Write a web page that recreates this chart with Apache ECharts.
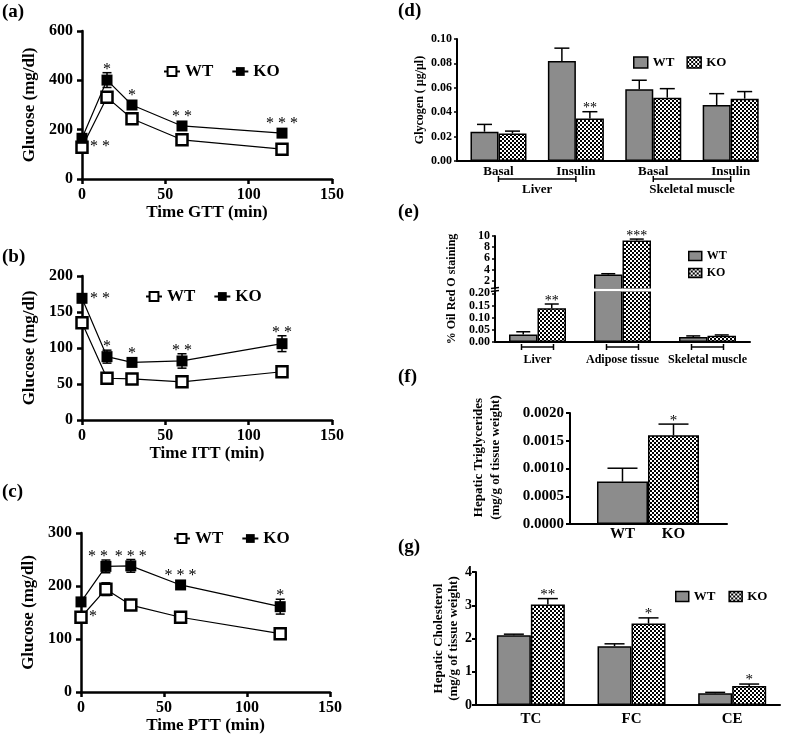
<!DOCTYPE html>
<html><head><meta charset="utf-8">
<script src="https://cdn.jsdelivr.net/npm/echarts@6/dist/echarts.min.js"></script>
<style>html,body{margin:0;padding:0;background:#fff}#c{width:787px;height:744px}</style>
</head><body><div id="c"></div>
<script>
// ---------------- DATA ----------------
const timeMin = [0, 15, 30, 60, 120];

const gttWT = [129, 331, 244, 159, 121];
const gttWTerr = [8, 12, 10, 8, 8];
const gttKO = [165, 401, 300, 215, 186];
const gttKOerr = [8, 30, 10, 8, 10];
const gttStars = ['**', '*', '*', '**', '***'];

const ittWT = [135, 58, 57, 53, 67];
const ittWTerr = [5, 4, 4, 4, 5];
const ittKO = [169, 88, 80, 82, 106];
const ittKOerr = [5, 9, 5, 10, 11];
const ittStars = ['**', '*', '*', '**', '**'];

const pttWT = [141, 194, 164, 141, 110];
const pttWTerr = [6, 12, 6, 6, 8];
const pttKO = [170, 237, 238, 202, 161];
const pttKOerr = [6, 12, 12, 6, 14];
const pttStars = ['*', '**', '***', '***', '*'];

const glyCats = ['Basal', 'Insulin', 'Basal', 'Insulin'];
const glyTissues = ['Liver', 'Skeletal muscle'];
const glyWT = [0.024, 0.082, 0.0588, 0.0459];
const glyWTerr = [0.006, 0.0105, 0.0074, 0.0093];
const glyKO = [0.0225, 0.0349, 0.0519, 0.0511];
const glyKOerr = [0.002, 0.0055, 0.0074, 0.0058];
const glyStars = ['', '**', '', ''];

const orCats = ['Liver', 'Adipose tissue', 'Skeletal muscle'];
const orWT = [0.031, 3.1, 0.021];
const orWTerr = [0.011, 0.15, 0.004];
const orKO = [0.139, 9.2, 0.026];
const orKOerr = [0.017, 0.25, 0.003];
const orStars = ['**', '***', ''];
const orTopTicks = [2, 4, 6, 8, 10];
const orBottomTicks = [0, 0.05, 0.10, 0.15, 0.20];

const tgCats = ['WT', 'KO'];
const tgVal = [0.000765, 0.0016];
const tgErr = [0.00024, 0.0002];
const tgStars = ['', '*'];

const cholCats = ['TC', 'FC', 'CE'];
const cholWT = [2.1, 1.77, 0.35];
const cholWTerr = [0.03, 0.07, 0.03];
const cholKO = [3.02, 2.45, 0.57];
const cholKOerr = [0.18, 0.17, 0.06];
const cholStars = ['**', '*', '*'];

// ---------------- STYLE / LAYOUT ----------------
const FONT = 'Liberation Serif';
const GREY = '#8c8c8c';
const starPlaceA = ['rightWT', 'top', 'top', 'top', 'top'];
const starPlaceB = ['rightKO', 'top', 'top', 'top', 'top'];
const starPlaceC = ['rightWT', 'topleft', 'top', 'top', 'top'];

const L = {
  a: {left: 82, top: 31, width: 250, height: 148},
  b: {left: 82, top: 276, width: 250, height: 144},
  c: {left: 81, top: 533, width: 249, height: 159},
  d: {left: 457, top: 39, width: 301, height: 122},
  et: {left: 495, top: 236, width: 255, height: 53},
  eb: {left: 495, top: 291, width: 255, height: 51},
  f: {left: 570, top: 413, width: 157, height: 111},
  g: {left: 476, top: 572, width: 304, height: 133}
};
const E_TOP_MIN = 0.515, E_BOT_MAX = 0.2094;

const pc = document.createElement('canvas');
pc.width = 4; pc.height = 4;
const pg = pc.getContext('2d');
pg.fillStyle = '#fff'; pg.fillRect(0, 0, 4, 4);
pg.fillStyle = '#000'; pg.fillRect(0, 0, 2, 2); pg.fillRect(2, 2, 2, 2);
const CHECK = {image: pc, repeat: 'repeat'};

function ts(size, extra) {
  return Object.assign({color: '#000', fontFamily: FONT, fontWeight: 'bold', fontSize: size}, extra || {});
}
function axisLine(w) { return {show: true, onZero: false, lineStyle: {color: '#000', width: w}}; }
function axisTick(len, w, extra) { return Object.assign({show: true, length: len, lineStyle: {color: '#000', width: w}}, extra || {}); }

// ---------------- AXES ----------------
const xAxis = [], yAxis = [];
function lineAxes(gi, ymax, yint, xname) {
  xAxis.push({type: 'value', gridIndex: gi, min: 0, max: 150, interval: 50,
    name: xname, nameLocation: 'middle', nameGap: 21, nameTextStyle: ts(17),
    axisLine: axisLine(2.5), axisTick: axisTick(5, 2.5), splitLine: {show: false},
    axisLabel: Object.assign(ts(16), {margin: 8})});
  yAxis.push({type: 'value', gridIndex: gi, min: 0, max: ymax, interval: yint,
    name: 'Glucose (mg/dl)', nameLocation: 'middle', nameGap: 44, nameTextStyle: ts(17),
    axisLine: axisLine(2.5), axisTick: axisTick(5, 2.5), splitLine: {show: false},
    axisLabel: Object.assign(ts(16), {margin: 9})});
}
lineAxes(0, 600, 200, 'Time GTT (min)');
lineAxes(1, 200, 50, 'Time ITT (min)');
lineAxes(2, 300, 100, 'Time PTT (min)');

// d
xAxis.push({type: 'value', gridIndex: 3, min: 0.464, max: 4.353,
  axisLine: axisLine(2), axisTick: {show: false}, splitLine: {show: false},
  axisLabel: Object.assign(ts(13), {margin: 4, customValues: [1, 2, 3, 4], formatter: v => glyCats[Math.round(v) - 1]})});
yAxis.push({type: 'value', gridIndex: 3, min: 0, max: 0.1, interval: 0.02,
  name: 'Glycogen ( μg/μl)', nameLocation: 'middle', nameGap: 31, nameTextStyle: ts(12),
  axisLine: axisLine(2), axisTick: axisTick(3, 1.5), splitLine: {show: false},
  axisLabel: Object.assign(ts(12), {margin: 5, formatter: v => v.toFixed(2)})});
// e top (labels split over two coincident axes so that none is dropped as overlapping)
const topTicksA = orTopTicks.filter((v, i) => i % 2 === 0);
const topTicksB = orTopTicks.filter((v, i) => i % 2 === 1);
xAxis.push({type: 'category', gridIndex: 4, data: orCats, show: false});
yAxis.push({type: 'value', gridIndex: 4, min: E_TOP_MIN, max: 10,
  axisLine: axisLine(2), axisTick: axisTick(3, 1.5, {customValues: orTopTicks}), splitLine: {show: false},
  axisLabel: Object.assign(ts(12), {margin: 5, customValues: topTicksA, showMinLabel: true, showMaxLabel: true,
    formatter: v => String(v)})});
// e bottom
xAxis.push({type: 'category', gridIndex: 5, data: orCats,
  axisLine: axisLine(2), axisTick: {show: false}, splitLine: {show: false},
  axisLabel: Object.assign(ts(12), {margin: 12, interval: 0})});
yAxis.push({type: 'value', gridIndex: 5, min: 0, max: E_BOT_MAX,
  axisLine: axisLine(2), axisTick: axisTick(3, 1.5, {customValues: orBottomTicks}), splitLine: {show: false},
  axisLabel: Object.assign(ts(12), {margin: 5, customValues: orBottomTicks, showMinLabel: true, showMaxLabel: true,
    formatter: v => v.toFixed(2)})});
// f
xAxis.push({type: 'value', gridIndex: 6, min: -0.029, max: 3.049,
  axisLine: axisLine(2), axisTick: {show: false}, splitLine: {show: false},
  axisLabel: Object.assign(ts(15), {margin: 3, customValues: [1, 2], formatter: v => tgCats[Math.round(v) - 1]})});
yAxis.push({type: 'value', gridIndex: 6, min: 0, max: 0.002, interval: 0.0005,
  name: 'Hepatic Triglycerides\n(mg/g of tissue weight)', nameLocation: 'middle', nameGap: 66,
  nameTextStyle: ts(13, {lineHeight: 17, padding: [0, 0, 0, 22]}),
  axisLine: axisLine(2), axisTick: axisTick(4, 2), splitLine: {show: false},
  axisLabel: Object.assign(ts(15), {margin: 6, formatter: v => v.toFixed(4)})});
// g
xAxis.push({type: 'value', gridIndex: 7, min: 0.455, max: 3.475,
  axisLine: axisLine(2), axisTick: {show: false}, splitLine: {show: false},
  axisLabel: Object.assign(ts(15), {margin: 7, customValues: [1, 2, 3], formatter: v => cholCats[Math.round(v) - 1]})});
yAxis.push({type: 'value', gridIndex: 7, min: 0, max: 4, interval: 1,
  name: 'Hepatic Cholesterol\n(mg/g of tissue weight)', nameLocation: 'middle', nameGap: 15,
  nameTextStyle: ts(13, {lineHeight: 15}),
  axisLine: axisLine(2), axisTick: axisTick(4, 2), splitLine: {show: false},
  axisLabel: Object.assign(ts(14), {margin: 4})});
// e top, second label axis (index 8)
yAxis.push({type: 'value', gridIndex: 4, min: E_TOP_MIN, max: 10, position: 'left',
  axisLine: {show: false}, axisTick: {show: false}, splitLine: {show: false},
  axisLabel: Object.assign(ts(12), {margin: 5, customValues: topTicksB, formatter: v => String(v)})});

// ---------------- SERIES ----------------
const series = [];
function errLineRender(capW) {
  return function (params, api) {
    const x = api.value(0), y = api.value(1), e = api.value(2);
    const hi = api.coord([x, y + e]), lo = api.coord([x, y - e]);
    const st = {stroke: '#000', lineWidth: 1.5};
    return {type: 'group', children: [
      {type: 'line', shape: {x1: hi[0], y1: hi[1], x2: lo[0], y2: lo[1]}, style: st},
      {type: 'line', shape: {x1: hi[0] - capW / 2, y1: hi[1], x2: hi[0] + capW / 2, y2: hi[1]}, style: st},
      {type: 'line', shape: {x1: lo[0] - capW / 2, y1: lo[1], x2: lo[0] + capW / 2, y2: lo[1]}, style: st}
    ]};
  };
}
function lineStarRender(stars, places) {
  return function (params, api) {
    const i = params.dataIndex, s = stars[i];
    if (!s) return null;
    const t = api.value(0), ko = api.value(1), e = api.value(2), wt = api.value(3);
    const pk = api.coord([t, ko]), pe = api.coord([t, ko + e]), pw = api.coord([t, wt]);
    const txt = s.split('').join(' ');
    const pl = places[i];
    let x, y, align, va;
    if (pl === 'rightWT') { x = pw[0] + 8; y = pw[1]; align = 'left'; va = 'middle'; }
    else if (pl === 'rightKO') { x = pk[0] + 8; y = pk[1]; align = 'left'; va = 'middle'; }
    else {
      y = Math.min(pk[1] - 1, pe[1] + 5); va = 'bottom';
      if (pl === 'topleft') { x = pk[0] + 2; align = 'right'; } else { x = pk[0]; align = 'center'; }
    }
    return {type: 'text', style: {text: txt, x: x, y: y, align: align, verticalAlign: va,
      font: 'normal 16px "Liberation Serif"', fill: '#000'}};
  };
}
function addLinePanel(gi, tag, wt, wtErr, ko, koErr, stars, places) {
  series.push({type: 'custom', name: 'errWT-' + tag, xAxisIndex: gi, yAxisIndex: gi, z: 1,
    renderItem: errLineRender(9), data: timeMin.map((t, i) => [t, wt[i], wtErr[i]])});
  series.push({type: 'custom', name: 'errKO-' + tag, xAxisIndex: gi, yAxisIndex: gi, z: 1,
    renderItem: errLineRender(9), data: timeMin.map((t, i) => [t, ko[i], koErr[i]])});
  series.push({type: 'line', name: 'WT-' + tag, xAxisIndex: gi, yAxisIndex: gi, z: 3,
    symbol: 'rect', symbolSize: 11, showAllSymbol: true,
    lineStyle: {color: '#000', width: 1.2},
    itemStyle: {color: '#fff', borderColor: '#000', borderWidth: 2.5},
    data: timeMin.map((t, i) => [t, wt[i]])});
  series.push({type: 'line', name: 'KO-' + tag, xAxisIndex: gi, yAxisIndex: gi, z: 4,
    symbol: 'rect', symbolSize: 11,
    lineStyle: {color: '#000', width: 1.2},
    itemStyle: {color: '#000', borderColor: '#000', borderWidth: 0},
    data: timeMin.map((t, i) => [t, ko[i]])});
  series.push({type: 'custom', name: 'stars-' + tag, xAxisIndex: gi, yAxisIndex: gi, z: 5,
    renderItem: lineStarRender(stars, places),
    data: timeMin.map((t, i) => [t, ko[i], koErr[i], wt[i]])});
}
addLinePanel(0, 'a', gttWT, gttWTerr, gttKO, gttKOerr, gttStars, starPlaceA);
addLinePanel(1, 'b', ittWT, ittWTerr, ittKO, ittKOerr, ittStars, starPlaceB);
addLinePanel(2, 'c', pttWT, pttWTerr, pttKO, pttKOerr, pttStars, starPlaceC);

function barErrRender(xOff, capW, stars, fsize, keep) {
  return function (params, api) {
    const x = api.value(0), v = api.value(1), e = api.value(2);
    if (keep && !keep(v)) return null;
    const p0 = api.coord([x, v]), p1 = api.coord([x, v + e]);
    const cx = p0[0] + xOff;
    const st = {stroke: '#000', lineWidth: 1.5};
    const ch = [
      {type: 'line', shape: {x1: cx, y1: p0[1], x2: cx, y2: p1[1]}, style: st},
      {type: 'line', shape: {x1: cx - capW / 2, y1: p1[1], x2: cx + capW / 2, y2: p1[1]}, style: st}
    ];
    const s = stars && stars[params.dataIndex];
    if (s) ch.push({type: 'text', style: {text: s, x: cx, y: p1[1] + 4, align: 'center', verticalAlign: 'bottom',
      font: 'normal ' + fsize + 'px "Liberation Serif"', fill: '#000'}});
    return {type: 'group', children: ch};
  };
}
const barBorder = {borderColor: '#000', borderWidth: 1.5};

// d
series.push({type: 'bar', name: 'WT-d', xAxisIndex: 3, yAxisIndex: 3, barWidth: 28, barGap: '0%',
  itemStyle: Object.assign({color: GREY}, barBorder), data: glyWT.map((v, i) => [i + 1, v])});
series.push({type: 'bar', name: 'KO-d', xAxisIndex: 3, yAxisIndex: 3, barWidth: 28, barGap: '0%',
  itemStyle: Object.assign({color: CHECK}, barBorder), data: glyKO.map((v, i) => [i + 1, v])});
series.push({type: 'custom', xAxisIndex: 3, yAxisIndex: 3, z: 5, renderItem: barErrRender(-14, 15, null, 14),
  data: glyWT.map((v, i) => [i + 1, v, glyWTerr[i]])});
series.push({type: 'custom', xAxisIndex: 3, yAxisIndex: 3, z: 5, renderItem: barErrRender(14, 15, glyStars, 14),
  data: glyKO.map((v, i) => [i + 1, v, glyKOerr[i]])});

// e
const keepTop = v => v > E_TOP_MIN, keepBot = v => v <= E_BOT_MAX;
[[4, keepTop], [5, null]].forEach(([gi, filt]) => {
  series.push({type: 'bar', name: 'WT-e', xAxisIndex: gi, yAxisIndex: gi, barWidth: 28.5, barGap: '0%', clip: true,
    itemStyle: Object.assign({color: GREY}, barBorder), data: orWT.map(v => (filt && !filt(v)) ? '-' : v)});
  series.push({type: 'bar', name: 'KO-e', xAxisIndex: gi, yAxisIndex: gi, barWidth: 28.5, barGap: '0%', clip: true,
    itemStyle: Object.assign({color: CHECK}, barBorder), data: orKO.map(v => (filt && !filt(v)) ? '-' : v)});
});
[[4, keepTop], [5, keepBot]].forEach(([gi, filt]) => {
  series.push({type: 'custom', xAxisIndex: gi, yAxisIndex: gi, z: 5, renderItem: barErrRender(-14.25, 14, null, 14, filt),
    data: orWT.map((v, i) => [i, v, orWTerr[i]])});
  series.push({type: 'custom', xAxisIndex: gi, yAxisIndex: gi, z: 5, renderItem: barErrRender(14.25, 14, orStars, 14, filt),
    data: orKO.map((v, i) => [i, v, orKOerr[i]])});
});

// f
series.push({type: 'bar', name: 'TG-f', xAxisIndex: 6, yAxisIndex: 6, barWidth: 51,
  itemStyle: barBorder,
  data: tgVal.map((v, i) => ({value: [i + 1, v], itemStyle: {color: i === 0 ? GREY : CHECK}}))});
series.push({type: 'custom', xAxisIndex: 6, yAxisIndex: 6, z: 5, renderItem: barErrRender(0, 30, tgStars, 15),
  data: tgVal.map((v, i) => [i + 1, v, tgErr[i]])});

// g
series.push({type: 'bar', name: 'WT-g', xAxisIndex: 7, yAxisIndex: 7, barWidth: 34, barGap: '0%',
  itemStyle: Object.assign({color: GREY}, barBorder), data: cholWT.map((v, i) => [i + 1, v])});
series.push({type: 'bar', name: 'KO-g', xAxisIndex: 7, yAxisIndex: 7, barWidth: 34, barGap: '0%',
  itemStyle: Object.assign({color: CHECK}, barBorder), data: cholKO.map((v, i) => [i + 1, v])});
series.push({type: 'custom', xAxisIndex: 7, yAxisIndex: 7, z: 5, renderItem: barErrRender(-17, 20, null, 15),
  data: cholWT.map((v, i) => [i + 1, v, cholWTerr[i]])});
series.push({type: 'custom', xAxisIndex: 7, yAxisIndex: 7, z: 5, renderItem: barErrRender(17, 20, cholStars, 15),
  data: cholKO.map((v, i) => [i + 1, v, cholKOerr[i]])});

// ---------------- LEGENDS ----------------
const legFmt = n => n.split('-')[0];
function lineLegend(tag, left, top) {
  return {data: ['WT-' + tag, 'KO-' + tag], left: left, top: top, padding: 0, formatter: legFmt, selectedMode: false,
    itemWidth: 16, itemHeight: 11, itemGap: 18, textStyle: ts(17)};
}
function barLegend(tag, left, top, extra) {
  return Object.assign({data: ['WT-' + tag, 'KO-' + tag], left: left, top: top, padding: 0, formatter: legFmt, selectedMode: false,
    icon: 'rect', itemStyle: {borderColor: '#000', borderWidth: 1.5}, textStyle: ts(13)}, extra);
}
const legend = [
  lineLegend('a', 163, 63), lineLegend('b', 145, 288), lineLegend('c', 173, 530),
  barLegend('d', 633, 56, {itemWidth: 14, itemHeight: 11, itemGap: 12}),
  barLegend('e', 688, 250, {orient: 'vertical', itemWidth: 13, itemHeight: 9, itemGap: 5, textStyle: ts(12)}),
  barLegend('g', 675, 590, {itemWidth: 13, itemHeight: 10, itemGap: 13})
];

const chart = echarts.init(document.getElementById('c'), null, {renderer: 'canvas'});
chart.setOption({
  animation: false, backgroundColor: '#fff',
  grid: [L.a, L.b, L.c, L.d, L.et, L.eb, L.f, L.g],
  xAxis: xAxis, yAxis: yAxis, legend: legend, series: series
});

// ---------------- DECORATION (brackets, panel labels, axis break) ----------------
const gfx = [];
const lst = {stroke: '#000', lineWidth: 1.5};
function bracket(x1, x2, y) {
  gfx.push({type: 'line', shape: {x1: x1, y1: y, x2: x2, y2: y}, style: lst, silent: true});
  gfx.push({type: 'line', shape: {x1: x1, y1: y - 3, x2: x1, y2: y + 3}, style: lst, silent: true});
  gfx.push({type: 'line', shape: {x1: x2, y1: y - 3, x2: x2, y2: y + 3}, style: lst, silent: true});
}
function label(text, x, y, font, rot, align) {
  gfx.push({type: 'text', x: x, y: y, rotation: rot || 0, silent: true,
    style: {text: text, font: font, fill: '#000', align: align || 'center', verticalAlign: 'middle'}});
}
glyTissues.forEach((name, k) => {
  const p1 = chart.convertToPixel({xAxisIndex: 3, yAxisIndex: 3}, [2 * k + 1, 0]);
  const p2 = chart.convertToPixel({xAxisIndex: 3, yAxisIndex: 3}, [2 * k + 2, 0]);
  const y = p1[1] + 18;
  bracket(p1[0], p2[0], y);
  label(name, (p1[0] + p2[0]) / 2, y + 11, 'bold 13px "Liberation Serif"');
});
orCats.forEach((c, i) => {
  const p = chart.convertToPixel({xAxisIndex: 5, yAxisIndex: 5}, [i, 0]);
  bracket(p[0] - 16, p[0] + 16, p[1] + 5);
});
label('% Oil Red O staining', L.et.left - 43, (L.et.top + L.eb.top + L.eb.height) / 2, 'bold 12px "Liberation Serif"', Math.PI / 2);
// white gap of the broken axis, drawn across the bars
gfx.push({type: 'rect', shape: {x: L.eb.left + 2, y: L.eb.top - 2.5, width: L.eb.width, height: 3}, style: {fill: '#fff'}, z: 100, silent: true});
gfx.push({type: 'line', shape: {x1: L.eb.left - 4, y1: L.eb.top - 2.5, x2: L.eb.left + 4, y2: L.eb.top - 3.5}, style: lst, z: 101, silent: true});
gfx.push({type: 'line', shape: {x1: L.eb.left - 4, y1: L.eb.top + 0.5, x2: L.eb.left + 4, y2: L.eb.top - 0.5}, style: lst, z: 101, silent: true});
[['(a)', 2, 12], ['(b)', 2, 257], ['(c)', 2, 492], ['(d)', 398, 11], ['(e)', 398, 212], ['(f)', 398, 377], ['(g)', 398, 547]]
  .forEach(([t, x, y]) => label(t, x, y, 'bold 19px "Liberation Serif"', 0, 'left'));
chart.setOption({graphic: {elements: gfx}});
</script>
</body></html>
